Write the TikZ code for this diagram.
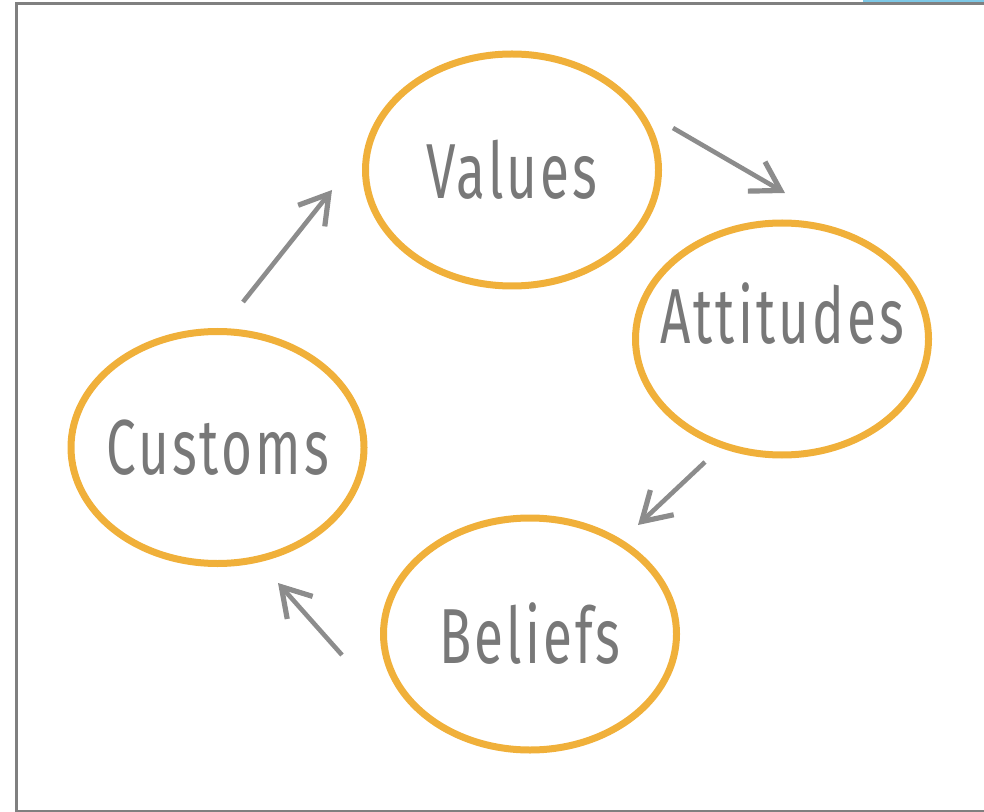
\documentclass[tikz,border=0pt]{standalone}
\usepackage{fontspec}
\setmainfont{Fira Sans}[FakeStretch=0.68, LetterSpace=4]
\usetikzlibrary{arrows.meta,shapes.geometric}

\definecolor{ringorange}{RGB}{240,176,58}
\definecolor{textgray}{RGB}{120,120,120}
\definecolor{arrgray}{RGB}{140,140,140}
\definecolor{framegray}{RGB}{128,128,128}
\definecolor{tabblue}{RGB}{125,200,230}

\begin{document}
\begin{tikzpicture}[x=0.5pt, y=-0.5pt, >=Stealth]

\tikzset{
  bubble/.style={draw=ringorange, ellipse, line width=3.5pt, minimum width=146.5pt, minimum height=116pt,
    inner xsep=-20pt, inner ysep=0pt, text=textgray, font=\fontsize{39}{40}\selectfont},
  arr/.style={-{Straight Barb[length=14pt,width=17pt,line width=2.6pt]}, draw=arrgray, line width=2.3pt}
}

\useasboundingbox (0,0) rectangle (984,812);

% --- Moldura ---
\fill[tabblue] (863,0) rectangle (984,2);
\draw[framegray, line width=1.5pt] (984,4) -- (16.3,4) -- (16.3,811) -- (984,811);

% --- Nós (coordenadas fixas, ciclo no sentido horário) ---
\node[bubble] (values)    at (512,170)   {Values};
\node[bubble, text depth=26pt] (attitudes) at (782,339) {Attitudes};
\node[bubble] (beliefs)   at (530,634)   {Beliefs};
\node[bubble] (customs)   at (217.5,447.5) {Customs};

% Pontas soltas das setas (não tocam as elipses)
\coordinate (vaS) at (673,128);  \coordinate (vaE) at (785,193);
\coordinate (abS) at (705,462);  \coordinate (abE) at (638,525);
\coordinate (bcS) at (342,655);  \coordinate (bcE) at (278,583);
\coordinate (cvS) at (243,302);  \coordinate (cvE) at (332,190);

% --- Setas ---
\draw[arr] (vaS) -- (vaE);
\draw[arr] (abS) -- (abE);
\draw[arr] (bcS) -- (bcE);
\draw[arr] (cvS) -- (cvE);

\end{tikzpicture}
\end{document}
